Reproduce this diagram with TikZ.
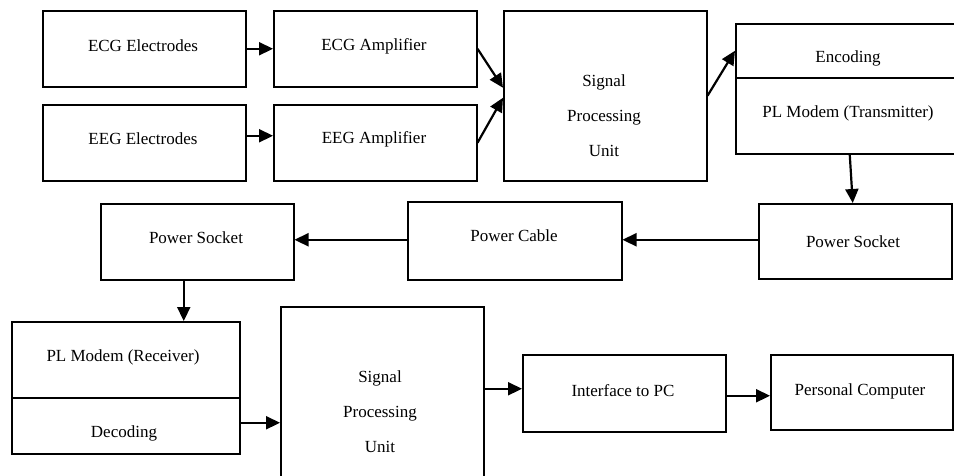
\documentclass[tikz,border=0pt]{standalone}
\usepackage{fontspec}
\setmainfont{Liberation Serif}
\usetikzlibrary{arrows.meta,calc}
\begin{document}
\begin{tikzpicture}[x=1pt,y=-1pt,
  box/.style={draw, line width=1.5pt, anchor=north west, inner sep=0pt},
  arr/.style={line width=2.2pt, -{Triangle[length=14pt,width=13pt]}},
  txt/.style={font=\fontsize{17}{20}\selectfont, inner sep=0pt, align=center},
  spu/.style={font=\fontsize{17}{35}\selectfont, inner sep=0pt, align=center}]
\useasboundingbox (0,0) rectangle (954,475);
% top row
\node[box, minimum width=203pt, minimum height=76pt] (ecgE) at (42,10) {};
\node[txt] (tecgE) at (143,46) {ECG Electrodes};
\node[box, minimum width=203pt, minimum height=76pt] (eegE) at (42,104) {};
\node[txt] (teegE) at (143,139) {EEG Electrodes};
\node[box, minimum width=203pt, minimum height=76pt] (ecgA) at (273,10) {};
\node[txt] (tecgA) at (374,46) {ECG Amplifier};
\node[box, minimum width=203pt, minimum height=76pt] (eegA) at (273,104) {};
\node[txt] (teegA) at (374,139) {EEG Amplifier};
\node[box, minimum width=203pt, minimum height=170pt] (spuA) at (503,10) {};
\node[spu] (tspuA) at (604,116) {Signal\\Processing\\Unit};
\node[box, minimum width=227pt, minimum height=54pt] (enc) at (735,23) {};
\node[txt] (tenc) at (848,58) {Encoding};
\node[box, minimum width=227pt, minimum height=76pt] (mtx) at (735,77) {};
\node[txt] (tmtx) at (848,113) {PL Modem (Transmitter)};
% middle row
\node[box, minimum width=193pt, minimum height=75pt] (psR) at (758,203) {};
\node[txt] (tpsR) at (853,242) {Power Socket};
\node[box, minimum width=214pt, minimum height=78pt] (cab) at (407,201) {};
\node[txt] (tcab) at (514,236) {Power Cable};
\node[box, minimum width=193pt, minimum height=76pt] (psL) at (100,203) {};
\node[txt] (tpsL) at (196,238) {Power Socket};
% bottom row
\node[box, minimum width=228pt, minimum height=76pt] (mrx) at (11,321) {};
\node[txt] (tmrx) at (123,357) {PL Modem (Receiver)};
\node[box, minimum width=228pt, minimum height=56pt] (dec) at (11,397) {};
\node[txt] (tdec) at (124,433) {Decoding};
\node[box, minimum width=203pt, minimum height=170pt] (spuB) at (280,306) {};
\node[spu] (tspuB) at (380,412) {Signal\\Processing\\Unit};
\node[box, minimum width=203pt, minimum height=77pt] (ipc) at (522,354) {};
\node[txt] (tipc) at (623,391) {Interface to PC};
\node[box, minimum width=182pt, minimum height=75pt] (pc) at (770,354) {};
\node[txt] (tpc) at (860,391) {Personal Computer};
% connectors
\draw[arr] (ecgE.east) -- (ecgA.west);
\draw[arr] ([yshift=7pt]eegE.east) -- ([yshift=7pt]eegA.west);
\draw[arr] (ecgA.east) -- ([yshift=8pt]spuA.west);
\draw[arr] (eegA.east) -- ([yshift=-2pt]spuA.west);
\draw[arr] (spuA.east) -- (enc.west);
\draw[arr] ([xshift=0.5pt]mtx.south) -- ([xshift=-2.5pt]psR.north);
\draw[arr] ([yshift=1.5pt]psR.west) -- ([yshift=1pt]cab.east);
\draw[arr] ([yshift=1pt]cab.west) -- ([yshift=2pt]psL.west -| psL.east);
\draw[arr] ([xshift=-13.5pt]psL.south) -- ([xshift=-13.5pt]psL.south |- mrx.north);
\draw[arr] ([yshift=3pt]dec.east) -- ([yshift=3pt]dec.east -| spuB.west);
\draw[arr] ([yshift=3pt]spuB.east) -- ([yshift=3pt]spuB.east -| ipc.west);
\draw[arr] ([yshift=-2.5pt]ipc.east) -- ([yshift=-2.5pt]ipc.east -| pc.west);
\end{tikzpicture}
\end{document}
